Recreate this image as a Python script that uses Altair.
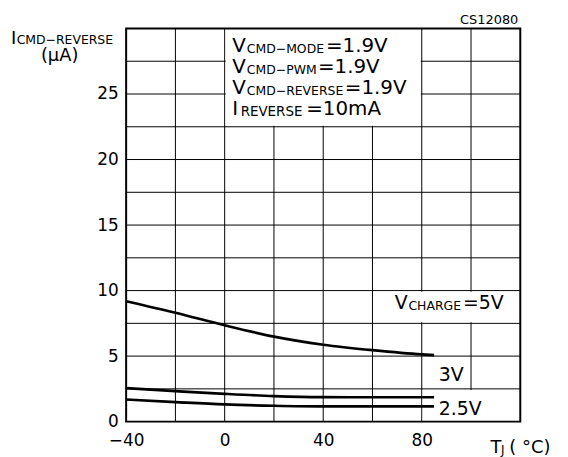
import altair as alt
import pandas as pd

FONT = "DejaVu Sans"

# ---- data ----
temps = [-40, -20, 0, 20, 40, 60, 80, 85]
i_5v = [9.19, 8.31, 7.35, 6.49, 5.87, 5.45, 5.13, 5.08]
i_3v = [2.55, 2.33, 2.12, 1.95, 1.87, 1.86, 1.86, 1.86]
i_25v = [1.69, 1.49, 1.31, 1.21, 1.16, 1.16, 1.17, 1.17]
series_names = ["5V", "3V", "2.5V"]

x_ticks = [-40, 0, 40, 80]
y_ticks = [0, 5, 10, 15, 20, 25]
x_grid = [-20, 0, 20, 40, 60, 80, 100]
y_grid = [2.5, 5, 7.5, 10, 12.5, 15, 17.5, 20, 22.5, 25, 27.5]

rows = []
for name, vals in zip(series_names, [i_5v, i_3v, i_25v]):
    for t, v in zip(temps, vals):
        rows.append({"T": t, "I": v, "s": name})
curve_df = pd.DataFrame(rows)

xs = alt.Scale(domain=[-40, 120], nice=False, zero=False)
ys = alt.Scale(domain=[0, 30], nice=False, zero=True)
xax = alt.Axis(values=x_ticks, title=None, grid=False, ticks=False, domain=False, labelFlush=False,
               labelFont=FONT, labelFontSize=17, labelColor="black", labelPadding=11)
yax = alt.Axis(values=y_ticks, title=None, grid=False, ticks=False, domain=False, labelFlush=False,
               labelFont=FONT, labelFontSize=17, labelColor="black", labelPadding=8)


def X(field):
    return alt.X(field, scale=xs, axis=xax)


def Y(field):
    return alt.Y(field, scale=ys, axis=yax)


# grid
vgrid = alt.Chart(pd.DataFrame({"x": x_grid})).mark_rule(color="black", strokeWidth=1).encode(x=X("x:Q"))
hgrid = alt.Chart(pd.DataFrame({"y": y_grid})).mark_rule(color="black", strokeWidth=1).encode(y=Y("y:Q"))

# white label boxes (slightly inset so their border grid lines stay visible)
box_df = pd.DataFrame({
    "x": [0.4, 60.4, 80.4],
    "x2": [79.6, 120, 120],
    "y": [22.58, 7.58, 0],
    "y2": [30, 9.92, 2.42],
})
boxes = alt.Chart(box_df).mark_rect(color="white").encode(
    x=X("x:Q"), x2="x2:Q", y=Y("y:Q"), y2="y2:Q",
)

frame = alt.Chart(pd.DataFrame({"x": [-40], "x2": [120], "y": [0], "y2": [30]})).mark_rect(
    fillOpacity=0, stroke="black", strokeWidth=2
).encode(x=X("x:Q"), x2="x2:Q", y=Y("y:Q"), y2="y2:Q")

curves = alt.Chart(curve_df).mark_line(color="black", strokeWidth=2.7, interpolate="monotone").encode(
    x=X("T:Q"), y=Y("I:Q"), detail="s:N",
)

# annotations in data coordinates
big_df = pd.DataFrame([
    {"x": 3.1, "y": 28.2, "t": "V", "sz": 20},
    {"x": 41.08, "y": 28.2, "t": "=1.9V", "sz": 20},
    {"x": 3.1, "y": 26.61, "t": "V", "sz": 20},
    {"x": 37.85, "y": 26.61, "t": "=1.9V", "sz": 20},
    {"x": 3.1, "y": 25.0, "t": "V", "sz": 20},
    {"x": 48.75, "y": 25.0, "t": "=1.9V", "sz": 20},
    {"x": 3.1, "y": 23.42, "t": "I", "sz": 20},
    {"x": 33.1, "y": 23.42, "t": "=10mA", "sz": 20},
    {"x": 69.0, "y": 8.61, "t": "V", "sz": 19},
    {"x": 96.75, "y": 8.61, "t": "=5V", "sz": 19},
    {"x": 86.95, "y": 3.13, "t": "3V", "sz": 19},
    {"x": 86.95, "y": 0.48, "t": "2.5V", "sz": 19},
])
small_df = pd.DataFrame([
    {"x": 9.0, "y": 28.2, "t": "CMD\u2212MODE", "sz": 12.5},
    {"x": 9.0, "y": 26.61, "t": "CMD\u2212PWM", "sz": 12.5},
    {"x": 9.0, "y": 25.0, "t": "CMD\u2212REVERSE", "sz": 12.5},
    {"x": 6.5, "y": 23.42, "t": "REVERSE", "sz": 13.5},
    {"x": 74.6, "y": 8.61, "t": "CHARGE", "sz": 12.5},
])
big_text = alt.Chart(big_df).mark_text(font=FONT, align="left", baseline="alphabetic", color="black").encode(
    x=X("x:Q"), y=Y("y:Q"), text="t:N", size=alt.Size("sz:Q", scale=None),
)
small_text = alt.Chart(small_df).mark_text(font=FONT, align="left", baseline="alphabetic", color="black",
                                            dy=1).encode(
    x=X("x:Q"), y=Y("y:Q"), text="t:N", size=alt.Size("sz:Q", scale=None),
)


def ptext(txt, px, py, size, align="left"):
    return alt.Chart(pd.DataFrame({"t": [txt]})).mark_text(
        font=FONT, fontSize=size, align=align, baseline="alphabetic", color="black"
    ).encode(x=alt.value(px), y=alt.value(py), text="t:N")


outside = [
    ptext("I", -116, 15.3, 18),
    ptext("CMD\u2212REVERSE", -110.3, 15.5, 12.5),
    ptext("(\u03bcA)", -67, 33, 18, align="center"),
    ptext("T", 367, 428, 18),
    ptext("J", 377.5, 429, 12),
    ptext("( \u00b0C)", 386, 428, 18),
    ptext("CS12080", 395, -5, 13, align="right"),
]

chart = alt.layer(vgrid, hgrid, boxes, curves, frame, big_text, small_text, *outside).properties(
    width=397, height=396,
    autosize=alt.AutoSizeParams(type="none"),
    padding={"left": 119, "top": 19, "right": 40, "bottom": 34},
).configure_view(stroke=None)

chart.save("out.html", embed_options={"renderer": "svg", "actions": False})
